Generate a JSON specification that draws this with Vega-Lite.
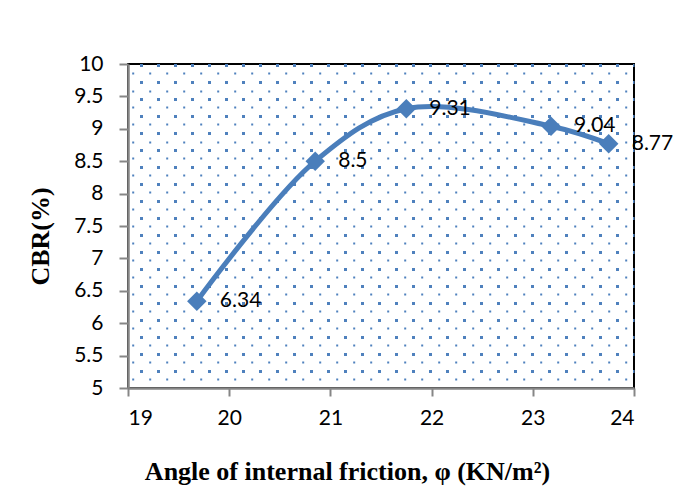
{
  "$schema": "https://vega.github.io/schema/vega-lite/v6.json",
  "width": 506,
  "height": 324,
  "autosize": {"type": "none"},
  "padding": {"left": 128, "top": 64, "right": 52, "bottom": 114},
  "background": "white",
  "config": {
    "view": {"stroke": "black", "strokeWidth": 2},
    "axis": {"labelFont": "Lato", "titleFont": "Liberation Serif"}
  },
  "data": {
    "values": [
      {"phi": 19.68, "cbr": 6.34, "label": "6.34"},
      {"phi": 20.85, "cbr": 8.5, "label": "8.5"},
      {"phi": 21.75, "cbr": 9.31, "label": "9.31"},
      {"phi": 23.18, "cbr": 9.04, "label": "9.04"},
      {"phi": 23.75, "cbr": 8.77, "label": "8.77"}
    ]
  },
  "resolve": {"axis": {"y": "independent"}},
  "layer": [
    {
      "mark": {"type": "point", "opacity": 0},
      "encoding": {
        "y": {
          "field": "cbr",
          "type": "quantitative",
          "scale": {"domain": [5, 10], "nice": false, "zero": false},
          "axis": {
            "orient": "right",
            "title": null,
            "labels": false,
            "ticks": false,
            "domain": false,
            "grid": true,
            "gridColor": "#4F81BD",
            "values": [9.985, 9.854, 9.722, 9.591, 9.46, 9.329, 9.198, 9.067, 8.936, 8.804, 8.673, 8.542, 8.411, 8.28, 8.149, 8.017, 7.886, 7.755, 7.624, 7.493, 7.362, 7.231, 7.099, 6.968, 6.837, 6.706, 6.575, 6.444, 6.312, 6.181, 6.05, 5.919, 5.788, 5.657, 5.526, 5.394, 5.263, 5.132],
            "gridWidth": {"condition": {"test": "round((9.985 - datum.value) / 0.13117) % 2 == 0", "value": 3}, "value": 2},
            "gridDash": {"condition": {"test": "round((9.985 - datum.value) / 0.13117) % 2 == 0", "value": [3, 14]}, "value": [2, 15]},
            "gridDashOffset": {"condition": {"test": "round((9.985 - datum.value) / 0.13117) % 2 == 0", "value": 1.5}, "value": 9.7}
          }
        }
      }
    },
    {
      "mark": {"type": "line", "interpolate": "catmull-rom", "color": "#4A7EBB", "strokeWidth": 5},
      "encoding": {
        "x": {
          "field": "phi",
          "type": "quantitative",
          "scale": {"domain": [19, 24], "nice": false, "zero": false},
          "axis": {
            "values": [19, 20, 21, 22, 23, 24],
            "format": "d",
            "grid": false,
            "domainColor": "#868686",
            "domainWidth": 2.5,
            "tickColor": "#868686",
            "tickWidth": 2,
            "tickSize": 8,
            "labelFontSize": 21,
            "labelColor": "black",
            "labelPadding": 11,
            "title": "Angle of internal friction, φ (KN/m²)",
            "titleFontSize": 26,
            "titleFontWeight": "bold",
            "titleColor": "black",
            "titleX": 219,
            "titleY": 91,
            "titleAlign": "center",
            "titleBaseline": "alphabetic"
          }
        },
        "y": {
          "field": "cbr",
          "type": "quantitative",
          "scale": {"domain": [5, 10], "nice": false, "zero": false},
          "axis": {
            "orient": "left",
            "values": [5, 5.5, 6, 6.5, 7, 7.5, 8, 8.5, 9, 9.5, 10],
            "format": "~f",
            "grid": false,
            "domainColor": "#868686",
            "domainWidth": 2.5,
            "tickColor": "#868686",
            "tickWidth": 2,
            "tickSize": 9,
            "labelFontSize": 21,
            "labelColor": "black",
            "labelPadding": 16,
            "title": "CBR(%)",
            "titleFontSize": 26,
            "titleFontWeight": "bold",
            "titleColor": "black",
            "titleX": -75,
            "titleY": 172,
            "titleAngle": -90,
            "titleAlign": "center",
            "titleBaseline": "bottom"
          }
        }
      }
    },
    {
      "mark": {"type": "point", "shape": "diamond", "filled": true, "size": 380, "color": "#4A7EBB", "opacity": 1},
      "encoding": {
        "x": {
          "field": "phi",
          "type": "quantitative",
          "axis": {
            "values": [19, 20, 21, 22, 23, 24],
            "format": "d",
            "grid": false,
            "domainColor": "#868686",
            "domainWidth": 2.5,
            "tickColor": "#868686",
            "tickWidth": 2,
            "tickSize": 8,
            "labelFontSize": 21,
            "labelColor": "black",
            "labelPadding": 11,
            "title": "Angle of internal friction, φ (KN/m²)",
            "titleFontSize": 26,
            "titleFontWeight": "bold",
            "titleColor": "black",
            "titleX": 219,
            "titleY": 91,
            "titleAlign": "center",
            "titleBaseline": "alphabetic"
          }
        },
        "y": {"field": "cbr", "type": "quantitative", "axis": null}
      }
    },
    {
      "mark": {"type": "text", "align": "left", "baseline": "middle", "dx": 23, "font": "Lato", "fontSize": 21, "color": "black"},
      "encoding": {
        "x": {
          "field": "phi",
          "type": "quantitative",
          "axis": {
            "values": [19, 20, 21, 22, 23, 24],
            "format": "d",
            "grid": false,
            "domainColor": "#868686",
            "domainWidth": 2.5,
            "tickColor": "#868686",
            "tickWidth": 2,
            "tickSize": 8,
            "labelFontSize": 21,
            "labelColor": "black",
            "labelPadding": 11,
            "title": "Angle of internal friction, φ (KN/m²)",
            "titleFontSize": 26,
            "titleFontWeight": "bold",
            "titleColor": "black",
            "titleX": 219,
            "titleY": 91,
            "titleAlign": "center",
            "titleBaseline": "alphabetic"
          }
        },
        "y": {"field": "cbr", "type": "quantitative", "axis": null},
        "text": {"field": "label"}
      }
    }
  ]
}
